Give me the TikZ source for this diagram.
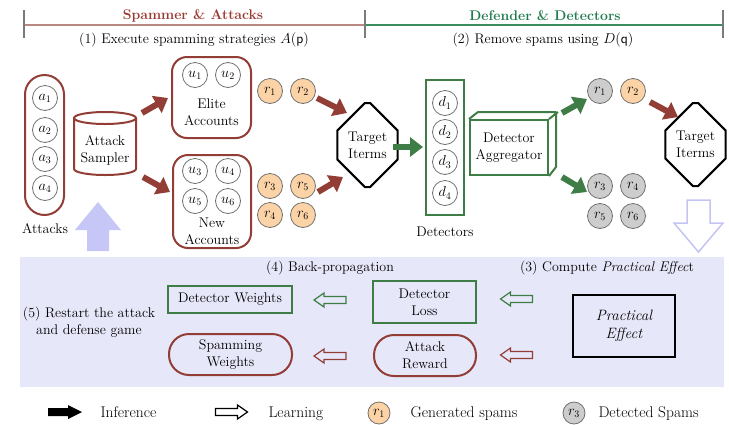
\documentclass[tikz,border=0pt]{standalone}
\usepackage{fontspec}
\usetikzlibrary{arrows.meta,shapes.misc,calc}
\definecolor{brn}{HTML}{923D36}
\definecolor{grn}{HTML}{3E7D45}
\definecolor{hgrn}{HTML}{1F7A4C}
\definecolor{hbrn}{HTML}{9A3A32}
\definecolor{hline}{HTML}{B98882}
\definecolor{hgline}{HTML}{3B8C5F}
\definecolor{tickc}{HTML}{7A7A7A}
\definecolor{orng}{HTML}{FCD3A6}
\definecolor{gryf}{HTML}{CDCDCD}
\definecolor{cbord}{HTML}{707070}
\definecolor{lavbg}{HTML}{E7E7FA}
\definecolor{lavup}{HTML}{C6C6F7}
\definecolor{lavdn}{HTML}{C4C4F4}
\tikzset{
 circ/.style={circle, draw=cbord, line width=0.8pt, minimum size=25pt, inner sep=0pt},
 ocirc/.style={circ, fill=orng},
 gcirc/.style={circ, fill=gryf},
 pill/.style={draw=brn, line width=2pt, rounded corners=#1, inner sep=0pt, align=center},
 gbox/.style={draw=grn, line width=2pt, inner sep=0pt, align=center},
 txt/.style={align=center, inner sep=0pt},
 infb/.style={draw=brn, line width=6pt, -{Triangle[length=13pt,width=19pt]}},
 infg/.style={infb, draw=grn},
 octo/.style={chamfered rectangle, chamfered rectangle xsep=10.5pt, chamfered rectangle ysep=17pt, draw=black, line width=2pt, inner sep=0pt, align=center},
 tickl/.style={draw=tickc, line width=2.5pt},
 lfont/.style={font=\fontsize{15.5}{17}\selectfont},
 learnL/.pic={\path[pic actions] (-16,0) -- (-6,-7) -- (-6,-3.5) -- (16,-3.5) -- (16,3.5) -- (-6,3.5) -- (-6,7) -- cycle;},
}
\begin{document}
\begin{tikzpicture}[x=1pt,y=-1pt,font=\fontsize{14}{17}\selectfont]
\useasboundingbox (0,0) rectangle (729,424);
% header
\draw[hline, line width=1.5pt] (24,25) -- (365,25);
\draw[hgline, line width=1.5pt] (365,25) -- (723,25);
\foreach \x in {24,365,723} \draw[tickl] (\x,10) -- (\x,38);
\node[text=hbrn, font=\fontsize{14}{16}\selectfont\bfseries] (h1) at (193,16) {Spammer \& Attacks};
\node[text=hgrn, font=\fontsize{14}{16}\selectfont\bfseries] (h2) at (545,16) {Defender \& Detectors};
\node (h1s) at (194,40) {(1) Execute spamming strategies $A(\mathsf{p})$};
\node (h2s) at (543,40) {(2) Remove spams using $D(\mathsf{q})$};
% attacks
\node[pill=19.5pt, minimum width=39pt, minimum height=140pt] (attacks) at (44.5,145) {};
\node[circ] (a1) at (45,98) {$a_1$};
\node[circ] (a2) at (45,130) {$a_2$};
\node[circ] (a3) at (45,159) {$a_3$};
\node[circ] (a4) at (45,188) {$a_4$};
\node (attl) at (45,229) {Attacks};
% sampler
\draw[brn, line width=2pt, fill=white] (74,118) -- (74,169) arc[start angle=180, end angle=0, x radius=31, y radius=6] -- (136,118);
\draw[brn, line width=2pt] (105,118) ellipse[x radius=31, y radius=6];
\node[txt, minimum width=62pt, minimum height=63pt] (sampler) at (105,150) {Attack\\Sampler};
% elite
\node[pill=15pt, minimum width=79pt, minimum height=81pt] (elite) at (211.5,97.5) {};
\node[circ] (u1) at (195,75) {$u_1$};
\node[circ] (u2) at (228,75) {$u_2$};
\node[txt] (elitet) at (211.5,112) {Elite\\Accounts};
% new
\node[pill=15pt, minimum width=78pt, minimum height=93pt] (newacc) at (212,201.5) {};
\node[circ] (u3) at (195,171) {$u_3$};
\node[circ] (u4) at (228,171) {$u_4$};
\node[circ] (u5) at (195,201) {$u_5$};
\node[circ] (u6) at (228,201) {$u_6$};
\node[txt] (newt) at (212,231) {New\\Accounts};
% generated spams
\node[ocirc] (r1) at (270,91) {$r_1$};
\node[ocirc] (r2) at (303,91) {$r_2$};
\node[ocirc] (r3) at (270,186) {$r_3$};
\node[ocirc] (r5) at (303,186) {$r_5$};
\node[ocirc] (r4) at (270,215) {$r_4$};
\node[ocirc] (r6) at (303,215) {$r_6$};
% targets
\node[octo, minimum width=49pt, minimum height=84pt] (t1) at (367.5,145) {Target\\Iterms};
\node[octo, minimum width=45pt, minimum height=83pt] (t2) at (695.5,144.5) {Target\\Iterms};
% detectors
\node[gbox, minimum width=38pt, minimum height=135pt] (det) at (445,147.5) {};
\node[circ] (d1) at (445,103) {$d_1$};
\node[circ] (d2) at (445,132) {$d_2$};
\node[circ] (d3) at (445,162) {$d_3$};
\node[circ] (d4) at (445,193) {$d_4$};
\node (detl) at (445,232) {Detectors};
% aggregator
\node[gbox, minimum width=78pt, minimum height=55pt] (agg) at (509,147.5) {Detector\\Aggregator};
\draw[grn, line width=2pt, line join=round] (agg.north west) -- ++(9,-7) -- ++(78,0) -- ++(0,55) -- (agg.south east) (agg.north east) -- ++(9,-7);
% after detection
\node[gcirc] (g1) at (600,91) {$r_1$};
\node[ocirc] (o2) at (633,91) {$r_2$};
\node[gcirc] (g3) at (600,186) {$r_3$};
\node[gcirc] (g4) at (633,186) {$r_4$};
\node[gcirc] (g5) at (600,216) {$r_5$};
\node[gcirc] (g6) at (633,216) {$r_6$};
% inference arrows
\draw[infb] ([shift={(37,-37)}]sampler.center) -- ([shift={(-43.5,0.5)}]elite.center);
\draw[infb] ([shift={(38,27)}]sampler.center) -- ([shift={(-42,-9.5)}]newacc.center);
\draw[infb] ([shift={(14,7)}]r2.center) -- ([shift={(-20.5,-32)}]t1.center);
\draw[infb] ([shift={(15,6)}]r5.center) -- ([shift={(-24.5,32)}]t1.center);
\draw[infg] ([shift={(25.5,2)}]t1.center) -- ([shift={(-22,-0.5)}]det.center);
\draw[infg] ([shift={(53,-34.5)}]agg.center) -- ([shift={(-13,8)}]g1.center);
\draw[infg] ([shift={(53,29.5)}]agg.center) -- ([shift={(-13,6)}]g3.center);
\draw[infb] ([shift={(17,11)}]o2.center) -- ([shift={(-17.5,-27.5)}]t2.center);
% band
\fill[lavbg] (20,257) rectangle (724,387);
\fill[lavup] (87,251) -- (87,230) -- (75,230) -- (98,202) -- (121,230) -- (109,230) -- (109,251) -- cycle;
\draw[lavdn, line width=1.5pt, fill=white, line join=miter] (687,200) -- (710,200) -- (710,223) -- (723,223) -- (698.5,252) -- (674,223) -- (687,223) -- cycle;
\node (bp) at (330,268) {(4) Back-propagation};
\node (ce) at (607,268) {(3) Compute \textit{Practical Effec}t};
\node[txt] (rs) at (89,322) {(5) Restart the attack\\and defense game};
\node[gbox, minimum width=124pt, minimum height=27pt] (dw) at (230,299.5) {Detector Weights};
\node[pill=20pt, minimum width=123pt, minimum height=41pt] (sw) at (230.5,354.5) {Spamming\\Weights};
\node[gbox, minimum width=103pt, minimum height=42pt] (dl) at (424.5,302) {Detector\\Loss};
\node[pill=20pt, minimum width=102pt, minimum height=41pt] (ar) at (425,355.5) {Attack\\Reward};
\node[draw=black, line width=2pt, minimum width=102pt, minimum height=62pt, align=center, font=\fontsize{15}{18}\selectfont\itshape] (pe) at (624,326) {Practical\\Effect};
\pic[draw=grn, line width=1.2pt] at (330,300) {learnL};
\pic[draw=brn, line width=1.2pt] at (330,356) {learnL};
\pic[draw=grn, line width=1.2pt] at (516.5,299) {learnL};
\pic[draw=brn, line width=1.2pt] at (516.5,355) {learnL};
% legend
\fill[black] (48,408) -- (68,408) -- (68,405) -- (82,412) -- (68,419) -- (68,416) -- (48,416) -- cycle;
\node[lfont, anchor=base west] (li) at (97,417) {Inference};
\pic[draw=black, line width=1.2pt, rotate=180] at (231.5,412) {learnL};
\node[lfont, anchor=base west] (ll) at (265,417) {Learning};
\node[ocirc, minimum size=22pt] (lr1) at (379,413) {$r_1$};
\node[lfont, anchor=base west] (lg) at (407,417) {Generated spams};
\node[gcirc, minimum size=22pt] (lr3) at (574,413) {$r_3$};
\node[lfont, anchor=base west] (ld) at (595,417) {Detected Spams};
\end{tikzpicture}
\end{document}
